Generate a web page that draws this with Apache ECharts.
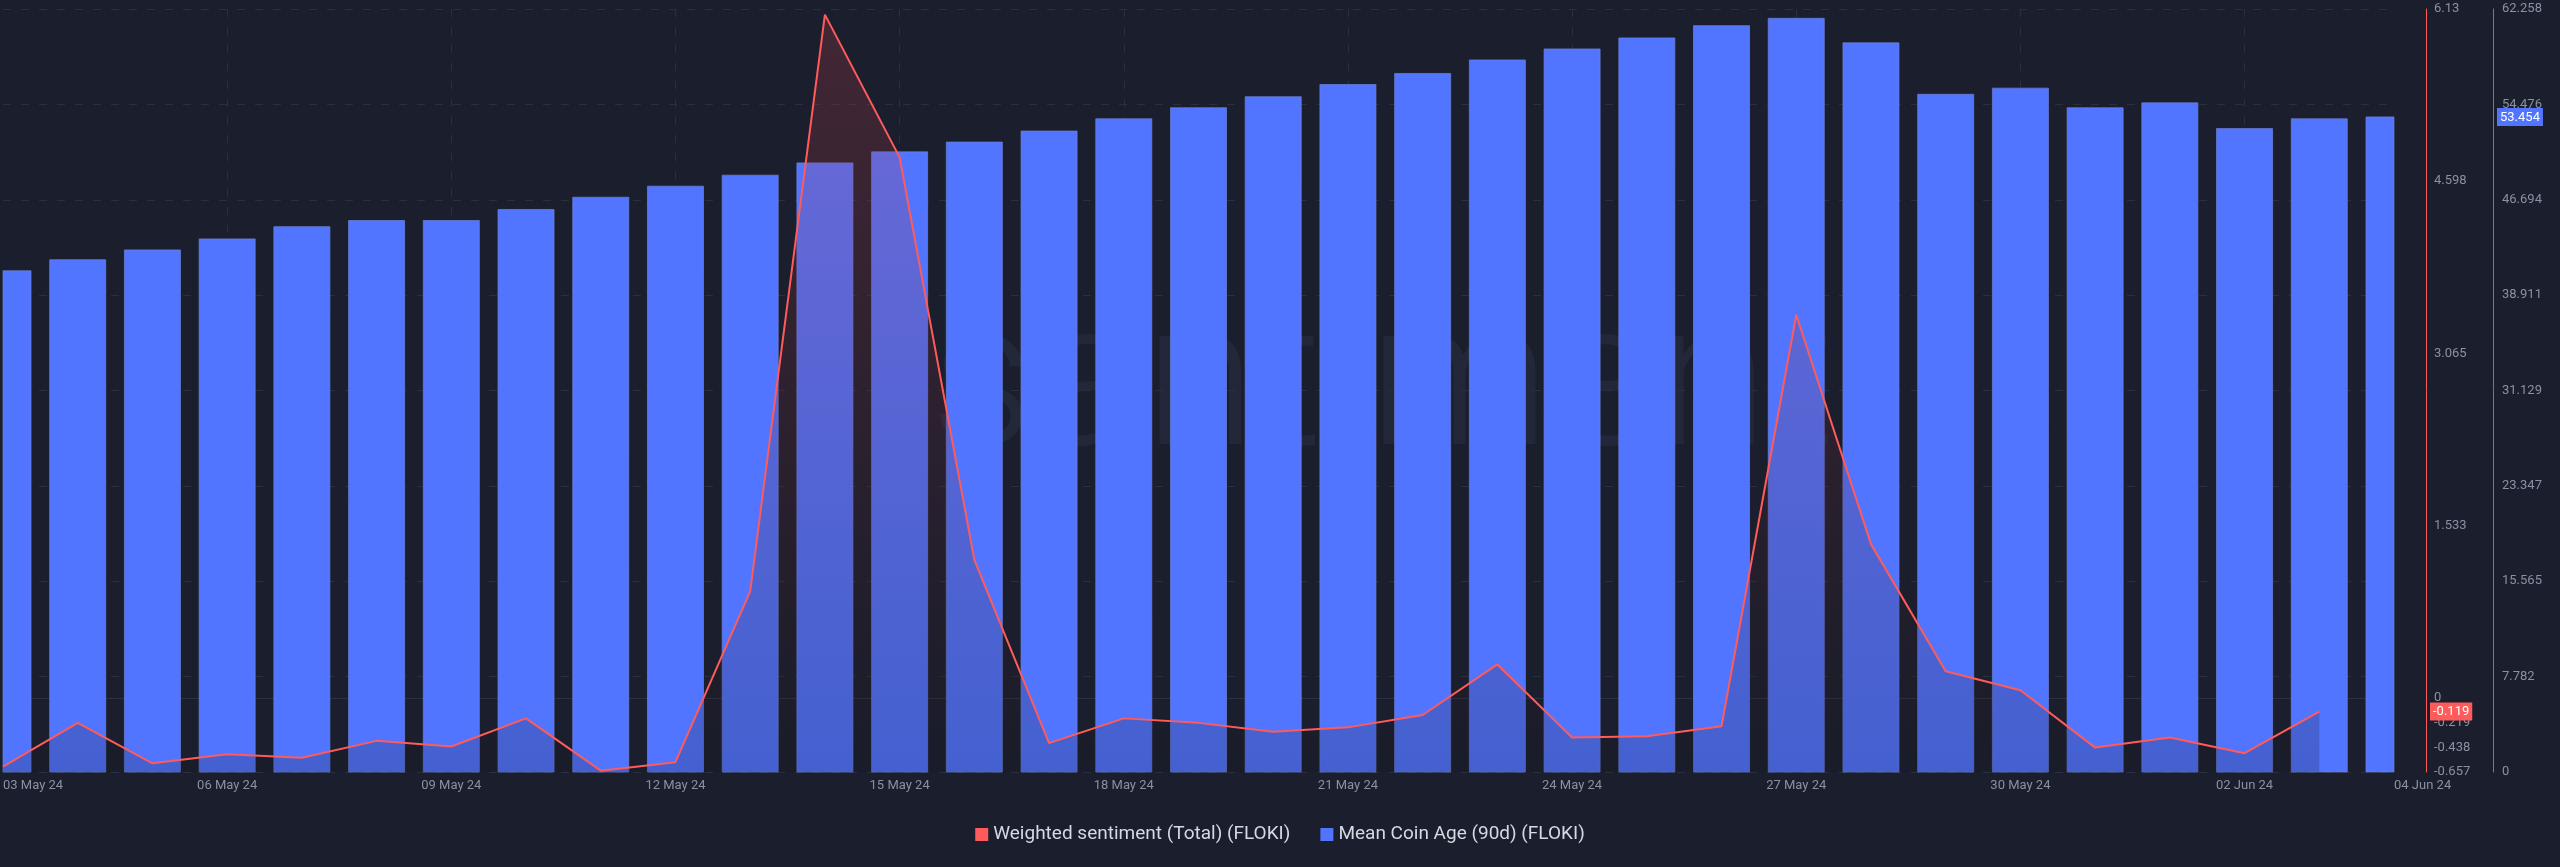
<!DOCTYPE html>
<html>
<head>
<meta charset="utf-8">
<script src="https://cdn.jsdelivr.net/npm/echarts@6/dist/echarts.min.js"></script>
<style>
  html, body { margin: 0; padding: 0; background: #1b1e2c; }
  #chart { width: 2560px; height: 867px; }
</style>
</head>
<body>
<div id="chart"></div>
<script>
// ---- data ----
const dates = ['03 May 24','04 May 24','05 May 24','06 May 24','07 May 24','08 May 24','09 May 24','10 May 24',
  '11 May 24','12 May 24','13 May 24','14 May 24','15 May 24','16 May 24','17 May 24','18 May 24','19 May 24',
  '20 May 24','21 May 24','22 May 24','23 May 24','24 May 24','25 May 24','26 May 24','27 May 24','28 May 24',
  '29 May 24','30 May 24','31 May 24','01 Jun 24','02 Jun 24','03 Jun 24','04 Jun 24'];
const meanCoinAge = [40.9, 41.8, 42.6, 43.5, 44.5, 45.0, 45.0, 45.9, 46.9, 47.8, 48.7, 49.7, 50.6, 51.4, 52.3,
  53.3, 54.2, 55.1, 56.1, 57.0, 58.1, 59.0, 59.9, 60.9, 61.5, 59.5, 55.3, 55.8, 54.2, 54.6, 52.5, 53.3, 53.454];
const weightedSentiment = [-0.61, -0.22, -0.58, -0.50, -0.53, -0.38, -0.43, -0.18, -0.645, -0.57, 0.95, 6.08,
  4.81, 1.23, -0.40, -0.18, -0.22, -0.30, -0.26, -0.15, 0.30, -0.35, -0.34, -0.25, 3.41, 1.37, 0.24, 0.07,
  -0.44, -0.35, -0.49, -0.119];
const sentimentTicks = [-0.657, -0.438, -0.219, 0, 1.533, 3.065, 4.598, 6.13];
const ageTicks = [0, 7.782, 15.565, 23.347, 31.129, 38.911, 46.694, 54.476, 62.258];
const sentimentName = 'Weighted sentiment (Total) (FLOKI)';
const ageName = 'Mean Coin Age (90d) (FLOKI)';

const RED = '#ff5b5b';
const BLUE = '#5275ff';
const LABEL = '#8a91a4';
const GRIDC = '#2a2e3f';
const FONT = 'Roboto, "Noto Sans", sans-serif';

const lastIdx = dates.length - 1;
const showLabel = (i) => i % 3 === 0 || i === lastIdx;

// bars drawn through the axis scales, clipped to the plot area
function renderBar(params, api) {
  const idx = api.value(0);
  const top = api.coord([idx, api.value(1)]);
  const base = api.coord([idx, 0]);
  const band = api.size([1, 0])[0];
  const w = band * 0.75;
  const rect = echarts.graphic.clipRectByRect(
    { x: top[0] - w / 2, y: top[1], width: w, height: base[1] - top[1] },
    { x: params.coordSys.x, y: params.coordSys.y, width: params.coordSys.width, height: params.coordSys.height }
  );
  if (!rect) return null;
  return {
    type: 'rect',
    shape: rect,
    style: { fill: BLUE, stroke: 'rgba(110,130,220,0.7)', lineWidth: 1 }
  };
}

const chart = echarts.init(document.getElementById('chart'), null, { renderer: 'canvas' });
chart.setOption({
  backgroundColor: '#1b1e2c',
  animation: false,
  textStyle: { fontFamily: FONT },
  graphic: [{
    type: 'text',
    z: -10,
    silent: true,
    left: 930,
    top: 290,
    style: {
      text: 'santiment',
      font: '300 205px Roboto, sans-serif',
      fill: '#23273a'
    }
  }],
  grid: { left: 0, right: 166, top: 9, bottom: 95, containLabel: false },
  legend: {
    bottom: 18,
    left: 'center',
    itemWidth: 13,
    itemHeight: 13,
    itemGap: 30,
    icon: 'rect',
    data: [sentimentName, ageName],
    textStyle: { color: '#d5d9e2', fontSize: 19, fontFamily: FONT }
  },
  xAxis: {
    type: 'category',
    data: dates,
    boundaryGap: false,
    axisLine: { show: true, lineStyle: { color: '#2c3142', width: 1 } },
    axisTick: { show: false },
    axisLabel: {
      interval: (i) => showLabel(i),
      color: LABEL,
      fontSize: 13,
      margin: 7,
      alignMinLabel: 'left',
      alignMaxLabel: 'left'
    },
    splitLine: {
      show: true,
      interval: (i) => showLabel(i) && i !== 0 && i !== lastIdx,
      lineStyle: { color: GRIDC, type: [8, 10], width: 1 }
    }
  },
  yAxis: [
    {
      type: 'value',
      position: 'right',
      offset: 32,
      min: sentimentTicks[0],
      max: sentimentTicks[sentimentTicks.length - 1],
      axisLine: { show: true, lineStyle: { color: RED, width: 1 } },
      axisTick: { show: false },
      splitLine: { show: false },
      axisLabel: {
        customValues: sentimentTicks,
        formatter: (v) => String(v),
        color: LABEL,
        fontSize: 13,
        margin: 8
      },
      axisPointer: {
        show: true,
        type: 'line',
        status: 'show',
        value: weightedSentiment[weightedSentiment.length - 1],
        triggerTooltip: false,
        lineStyle: { color: 'rgba(0,0,0,0)', width: 0 },
        label: {
          show: true,
          backgroundColor: RED,
          color: '#ffffff',
          fontSize: 13,
          padding: [3, 3, 2, 3],
          borderRadius: 0,
          margin: 4,
          formatter: (p) => Number(p.value).toFixed(3)
        }
      }
    },
    {
      type: 'value',
      position: 'right',
      offset: 99,
      min: 0,
      max: ageTicks[ageTicks.length - 1],
      interval: ageTicks[ageTicks.length - 1] / 8,
      axisLine: { show: true, lineStyle: { color: BLUE, width: 1 } },
      axisTick: { show: false },
      splitLine: { show: true, lineStyle: { color: GRIDC, type: [8, 10], width: 1 } },
      axisLabel: {
        customValues: ageTicks,
        formatter: (v) => String(v),
        color: LABEL,
        fontSize: 13,
        margin: 9
      },
      axisPointer: {
        show: true,
        type: 'line',
        status: 'show',
        value: meanCoinAge[meanCoinAge.length - 1],
        triggerTooltip: false,
        lineStyle: { color: 'rgba(0,0,0,0)', width: 0 },
        label: {
          show: true,
          backgroundColor: BLUE,
          color: '#ffffff',
          fontSize: 13,
          padding: [3, 3, 2, 3],
          borderRadius: 0,
          margin: 4,
          formatter: (p) => Number(p.value).toFixed(3)
        }
      }
    }
  ],
  series: [
    {
      name: ageName,
      type: 'custom',
      yAxisIndex: 1,
      data: meanCoinAge.map((v, i) => [i, v]),
      encode: { x: 0, y: 1 },
      renderItem: renderBar,
      itemStyle: { color: BLUE },
      z: 2
    },
    {
      name: sentimentName,
      type: 'line',
      yAxisIndex: 0,
      data: weightedSentiment,
      symbol: 'none',
      lineStyle: { color: RED, width: 2 },
      itemStyle: { color: RED },
      areaStyle: {
        origin: 'start',
        color: new echarts.graphic.LinearGradient(0, 0, 0, 1, [
          { offset: 0, color: 'rgba(205,68,84,0.32)' },
          { offset: 1, color: 'rgba(18,20,32,0.30)' }
        ])
      },
      z: 3
    }
  ]
});
</script>
</body>
</html>
